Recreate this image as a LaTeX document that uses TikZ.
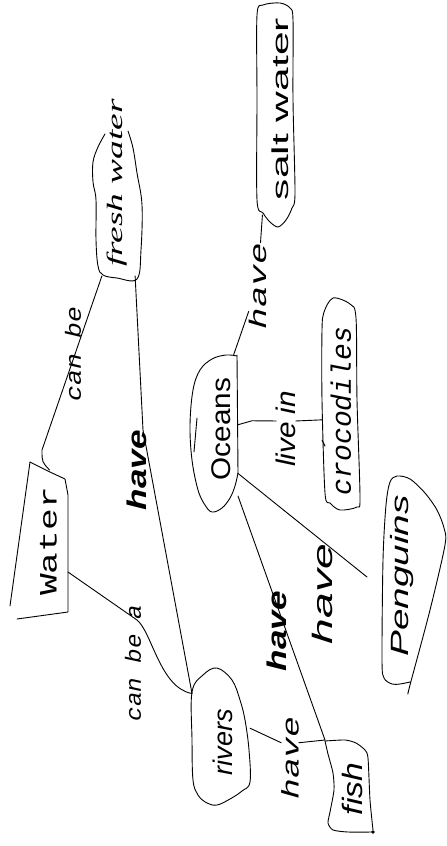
\documentclass[tikz,border=0pt]{standalone}
\usepackage{fontspec}
\setmainfont{Liberation Serif}
\setsansfont{Liberation Sans}
\setmonofont{Liberation Mono}
\newcommand{\vt}[3]{\rotatebox{90}{\scalebox{#1}[1]{\fontsize{#2}{#2}\selectfont #3}}}
\begin{document}
\begin{tikzpicture}[x=1pt,y=-1pt,
  conc/.style={inner sep=0pt,outer sep=0pt,draw=none},
  txt/.style={inner sep=0pt,outer sep=0pt},
  lbl/.style={inner sep=0pt,outer sep=0pt},
  outl/.style={line width=0.9pt,line join=round,line cap=round},
  conn/.style={line width=0.9pt,line cap=round}]
\useasboundingbox[fill=white] (0,0) rectangle (447,846);

% concept boxes (invisible, sized to the hand-drawn outlines)
\node[conc,minimum width=58pt,minimum height=150pt] (water) at (39,545) {};
\node[conc,minimum width=47pt,minimum height=144pt] (fresh) at (118.5,204) {};
\node[conc,minimum width=39pt,minimum height=213pt] (salt) at (275.5,108.5) {};
\node[conc,minimum width=48pt,minimum height=157pt] (oceans) at (214,433.5) {};
\node[conc,minimum width=38pt,minimum height=214pt] (croc) at (341,405) {};
\node[conc,minimum width=65pt,minimum height=212pt] (peng) at (413,581) {};
\node[conc,minimum width=58pt,minimum height=137pt] (rivers) at (221,736.5) {};
\node[conc,minimum width=47pt,minimum height=95pt] (fish) at (348.5,787.5) {};
\coordinate (pend) at (367,577);

% hand-drawn outlines
\draw[outl] (30,462) -- (50,472) -- (65,479) -- (68,495) -- (68,612) -- (17,619);
\draw[outl] (30,462) -- (10,606);
\draw[outl] plot[smooth,tension=0.6] coordinates {(105,134) (98,147) (93,162) (93,182) (96,200) (96,240) (98,266) (103,275) (117,278) (137,279) (141,250) (142,205) (137,173) (133,148) (128,131)};
\draw[outl] plot[smooth cycle,tension=0.5] coordinates {(263,5) (280,3) (290,8) (293,20) (293,100) (295,193) (292,208) (286,220) (278,227) (270,222) (263,213) (257,200) (257,100) (257,15)};
\draw[outl] (237,355) -- (238,473);
\draw[outl] plot[smooth,tension=0.6] coordinates {(237,356) (226,355) (212,359) (200,370) (193,390) (190,425) (192,460) (198,490) (205,505) (212,512) (222,508) (230,498) (235,486) (238,473)};
\draw[outl] (197,418) -- (194,452);
\draw[outl] plot[smooth cycle,tension=0.5] coordinates {(333,298) (350,304) (356,318) (357,400) (360,497) (357,507) (340,510) (330,503) (325,493) (322,400) (322,330) (324,312)};
\draw[outl] (322,440) -- (325,446);
\draw[outl] plot[smooth,tension=0.5] coordinates {(410,682) (400,684) (392,684) (384,678) (382,660) (383,560) (386,505) (390,482) (397,476) (410,479) (425,493) (437,510) (444,528) (445,545) (430,610) (410,685) (408,694)};
\draw[outl] plot[smooth cycle,tension=0.6] coordinates {(217,668) (203,675) (192,692) (192,740) (193,780) (198,795) (207,803) (217,805) (230,799) (242,791) (250,782) (249,750) (245,720) (240,700) (232,680)};
\draw[outl] plot[smooth,tension=0.4] coordinates {(325,741) (345,740) (356,743) (365,750) (368,758) (370,800) (373,830)};
\draw[outl] plot[smooth,tension=0.4] coordinates {(325,741) (328,754) (333,773) (334,790) (330,812) (328,823) (333,830) (348,832) (373,832)};
\fill (373,832) circle (1.8pt);

% concept texts
\node[txt] (water-t) at (48.5,541.5) {\vt{1.45}{25}{\ttfamily Water}};
\node[txt] (fresh-t) at (117,183) {\vt{1.7}{22}{\itshape fresh water}};
\node[txt] (salt-t) at (280,109) {\vt{1.85}{23}{\sffamily salt water}};
\node[txt] (oceans-t) at (221,429) {\vt{1.1}{27}{\sffamily Oceans}};
\node[txt] (croc-t) at (341,411) {\vt{1.0}{28}{\ttfamily\itshape crocodiles}};
\node[txt] (peng-t) at (402,576) {\vt{1.55}{25}{\sffamily\itshape Penguins}};
\node[txt] (rivers-t) at (223,742) {\vt{1.0}{27}{\sffamily\itshape rivers}};
\node[txt] (fish-t) at (352,789) {\vt{1.2}{28}{\sffamily\itshape fish}};

% link labels
\node[lbl] (l-canbe) at (73,354) {\vt{1.2}{22}{\ttfamily\itshape can be}};
\node[lbl] (l-canbea) at (133,663) {\vt{1.1}{22}{\ttfamily\itshape can be a}};
\node[lbl] (l-have1) at (137,470) {\vt{1.3}{27}{\sffamily\bfseries\itshape have}};
\node[lbl] (l-have2) at (277,631) {\vt{1.3}{27}{\sffamily\bfseries\itshape have}};
\node[lbl] (l-peng) at (322,594) {\vt{1.65}{28}{\sffamily\itshape have}};
\node[lbl] (l-rf) at (290,758) {\vt{1.45}{24}{\ttfamily\itshape have}};
\node[lbl] (l-salt) at (257.5,286) {\vt{1.5}{24}{\ttfamily\itshape have}};
\node[lbl] (l-live) at (286,429) {\vt{1.1}{27}{\sffamily\itshape live in}};

% connectors
\draw[conn] (water.82) .. controls (42,462) .. (42,450) -- (fresh.-103);
\draw[conn] (fresh.-77) -- (143,430) -- (rivers.124);
\draw[conn] (water.-43) -- (137,620) .. controls (152,632) and (160,688) .. (rivers.124);
\draw[conn] (rivers.16) -- (l-rf.120) (l-rf.60) -- (fish.north west);
\draw[conn] (oceans.-69) -- (fish.north west);
\draw[conn] (oceans.-59) -- (pend);
\draw[conn] (oceans.76) -- (l-salt) -- (salt.-97);
\draw[conn] (oceans.20) -- ++(14,-4) -- (l-live.141) (l-live.39) -- (croc.-142);
\end{tikzpicture}
\end{document}
